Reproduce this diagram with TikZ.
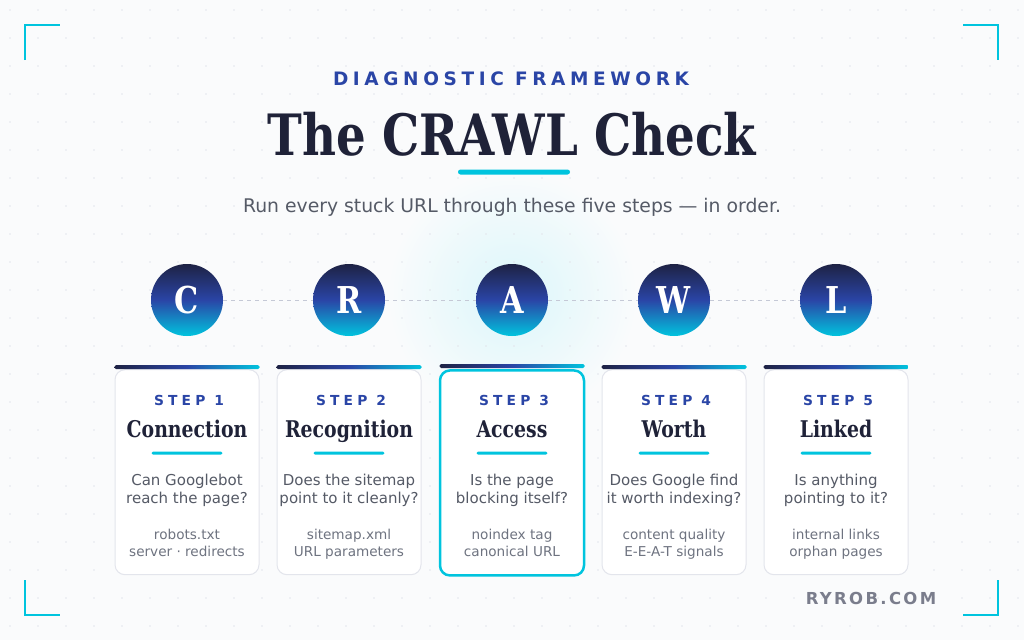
\documentclass[tikz,border=0pt]{standalone}
\usepackage{fontspec}
\setmainfont{DejaVu Sans}
\newfontfamily\headfont[FakeStretch=0.82]{DejaVu Serif Bold}
\newfontfamily\trackfont[LetterSpace=30]{DejaVu Sans Bold}
\newfontfamily\kickface[LetterSpace=25]{DejaVu Sans Bold}
\newfontfamily\siteface[LetterSpace=14]{DejaVu Sans Bold}
\usepackage{xcolor}
\definecolor{Navy}{HTML}{1E2244}
\definecolor{Royal}{HTML}{2A45A6}
\definecolor{Cyan}{HTML}{00C4DE}
\definecolor{Ink}{HTML}{1F2238}
\definecolor{Slate}{HTML}{555A66}
\definecolor{Pebble}{HTML}{6E7380}
\definecolor{Line}{HTML}{E3E5EC}
\definecolor{Paper}{HTML}{FAFBFC}
\definecolor{Grain}{HTML}{E2E5EC}
\definecolor{Dash}{HTML}{C5C9D6}
\definecolor{Brand}{HTML}{7A7D8C}
\usetikzlibrary{positioning}

\begin{document}
\begin{tikzpicture}[
  x=1pt,y=-1pt,
  letter/.style={circle,minimum size=72pt,inner sep=0pt,top color=Navy,bottom color=Cyan,middle color=Royal,text=white,font=\headfont\fontsize{37}{37}\selectfont},
  card/.style={draw=Line,line width=1pt,rounded corners=10pt,fill=white,minimum width=144pt,minimum height=205pt,inner sep=0pt},
  hot/.style={draw=Cyan,line width=2.5pt},
  bar/.style={left color=Navy,right color=Cyan,middle color=Royal,minimum width=145pt,minimum height=4pt,inner sep=0pt,rounded corners=1.5pt,anchor=south},
  rule/.style={fill=Cyan,minimum width=71pt,minimum height=3pt,inner sep=0pt,rounded corners=1.5pt},
  steplbl/.style={text=Royal,font=\trackfont\fontsize{13.8}{16}\selectfont,anchor=base,inner sep=0pt,xshift=2pt},
  cardtitle/.style={text=Ink,font=\headfont\fontsize{23}{26}\selectfont,anchor=base,inner sep=0pt},
  question/.style={text=Slate,font=\fontsize{15}{18}\selectfont,align=center,anchor=base,inner sep=0pt},
  detail/.style={text=Pebble,font=\fontsize{13.6}{16.5}\selectfont,align=center,anchor=base,inner sep=0pt},
  link/.style={draw=Dash,line width=1pt,dash pattern=on 4pt off 4pt},
  corner/.style={draw=Cyan,line width=2.5pt}
]
% canvas
\useasboundingbox[fill=Paper] (0,0) rectangle (1024,640);
\shade[inner color=Cyan!14,outer color=Paper] (512,295) circle (125pt);
\foreach \gx in {10,38,...,1024}
  \foreach \gy in {10,38,...,640}
    \fill[Grain] (\gx,\gy) circle (0.9pt);

% frame corners
\draw[corner] (25,60) -- (25,25) -- (60,25);
\draw[corner] (963,25) -- (998,25) -- (998,60);
\draw[corner] (25,580) -- (25,615) -- (60,615);
\draw[corner] (963,615) -- (998,615) -- (998,580);

% heading
\node[text=Royal,font=\kickface\fontsize{18.5}{20}\selectfont,anchor=base,inner sep=0pt] (kicker) at (511,85) {DIAGNOSTIC FRAMEWORK};
\node[text=Ink,font=\headfont\fontsize{57}{60}\selectfont,anchor=base,inner sep=0pt] (title) at (512,155) {The CRAWL Check};
\node[rule,minimum width=112pt,minimum height=5pt,rounded corners=2.5pt] (titlerule) at (514,172) {};
\node[text=Slate,font=\fontsize{18.8}{20}\selectfont,anchor=base,inner sep=0pt] (sub) at (512,212) {Run every stuck URL through these five steps — in order.};

% letters
\node[letter] (cC) at (187,300) {C};
\node[letter] (cR) at (349,300) {R};
\node[letter] (cA) at (512,300) {A};
\node[letter] (cW) at (674,300) {W};
\node[letter] (cL) at (836,300) {L};
\draw[link] (cC) -- (cR);
\draw[link] (cR) -- (cA);
\draw[link] (cA) -- (cW);
\draw[link] (cW) -- (cL);

% cards
\node[card,below=33pt of cC] (card1) {};
\node[card,below=33pt of cR] (card2) {};
\node[card,hot,below=33pt of cA] (card3) {};
\node[card,below=33pt of cW] (card4) {};
\node[card,below=33pt of cL] (card5) {};
\node[bar] (bar1) at (card1.north) {};
\node[bar] (bar2) at (card2.north) {};
\node[bar] (bar3) at ([yshift=1pt]card3.north) {};
\node[bar] (bar4) at (card4.north) {};
\node[bar] (bar5) at (card5.north) {};

% step 1
\node[steplbl] (s1) at ([yshift=-36pt]card1.north) {STEP 1};
\node[cardtitle] (t1) at ([yshift=-68pt]card1.north) {Connection};
\node[rule] (u1) at ([yshift=-84pt]card1.north) {};
\node[question] (q1) at ([yshift=-134pt]card1.north) {Can Googlebot\\reach the page?};
\node[detail] (d1) at ([yshift=-187pt]card1.north) {robots.txt\\server · redirects};

% step 2
\node[steplbl] (s2) at ([yshift=-36pt]card2.north) {STEP 2};
\node[cardtitle] (t2) at ([yshift=-68pt]card2.north) {Recognition};
\node[rule] (u2) at ([yshift=-84pt]card2.north) {};
\node[question] (q2) at ([yshift=-134pt]card2.north) {Does the sitemap\\point to it cleanly?};
\node[detail] (d2) at ([yshift=-187pt]card2.north) {sitemap.xml\\URL parameters};

% step 3
\node[steplbl] (s3) at ([yshift=-36pt]card3.north) {STEP 3};
\node[cardtitle] (t3) at ([yshift=-68pt]card3.north) {Access};
\node[rule] (u3) at ([yshift=-84pt]card3.north) {};
\node[question] (q3) at ([yshift=-134pt]card3.north) {Is the page\\blocking itself?};
\node[detail] (d3) at ([yshift=-187pt]card3.north) {noindex tag\\canonical URL};

% step 4
\node[steplbl] (s4) at ([yshift=-36pt]card4.north) {STEP 4};
\node[cardtitle] (t4) at ([yshift=-68pt]card4.north) {Worth};
\node[rule] (u4) at ([yshift=-84pt]card4.north) {};
\node[question] (q4) at ([yshift=-134pt]card4.north) {Does Google find\\it worth indexing?};
\node[detail] (d4) at ([yshift=-187pt]card4.north) {content quality\\E-E-A-T signals};

% step 5
\node[steplbl] (s5) at ([yshift=-36pt]card5.north) {STEP 5};
\node[cardtitle] (t5) at ([yshift=-68pt]card5.north) {Linked};
\node[rule] (u5) at ([yshift=-84pt]card5.north) {};
\node[question] (q5) at ([yshift=-134pt]card5.north) {Is anything\\pointing to it?};
\node[detail] (d5) at ([yshift=-187pt]card5.north) {internal links\\orphan pages};

% footer
\node[text=Brand,font=\siteface\fontsize{16.5}{18}\selectfont,anchor=base,inner sep=0pt] (site) at (871,604) {RYROB.COM};
\end{tikzpicture}
\end{document}
